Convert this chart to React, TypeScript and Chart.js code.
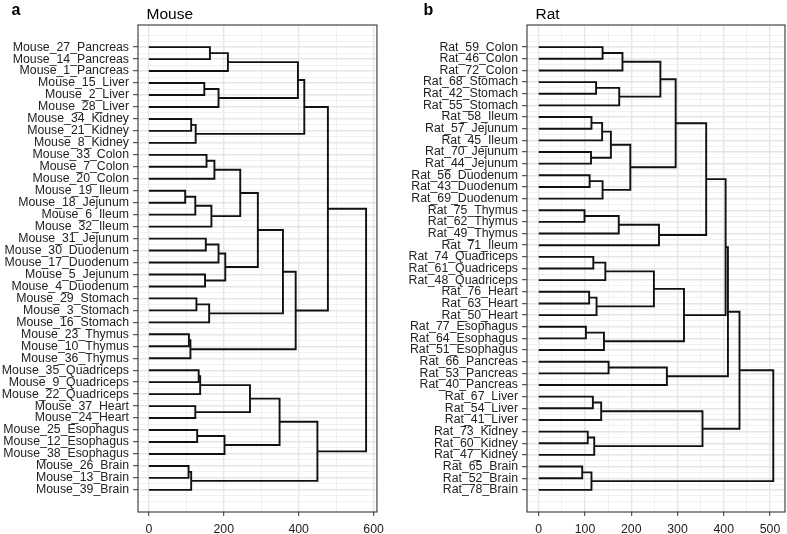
import React, { useEffect, useRef } from 'react';
import { Chart, registerables } from 'chart.js';

Chart.register(...registerables);

// ---------- Data ----------
const mouseLeaves = [
  'Mouse_27_Pancreas', 'Mouse_14_Pancreas', 'Mouse_1_Pancreas',
  'Mouse_15_Liver', 'Mouse_2_Liver', 'Mouse_28_Liver',
  'Mouse_34_Kidney', 'Mouse_21_Kidney', 'Mouse_8_Kidney',
  'Mouse_33_Colon', 'Mouse_7_Colon', 'Mouse_20_Colon',
  'Mouse_19_Ileum', 'Mouse_18_Jejunum', 'Mouse_6_Ileum', 'Mouse_32_Ileum',
  'Mouse_31_Jejunum', 'Mouse_30_Duodenum', 'Mouse_17_Duodenum', 'Mouse_5_Jejunum', 'Mouse_4_Duodenum',
  'Mouse_29_Stomach', 'Mouse_3_Stomach', 'Mouse_16_Stomach',
  'Mouse_23_Thymus', 'Mouse_10_Thymus', 'Mouse_36_Thymus',
  'Mouse_35_Quadriceps', 'Mouse_9_Quadriceps', 'Mouse_22_Quadriceps',
  'Mouse_37_Heart', 'Mouse_24_Heart',
  'Mouse_25_Esophagus', 'Mouse_12_Esophagus', 'Mouse_38_Esophagus',
  'Mouse_26_Brain', 'Mouse_13_Brain', 'Mouse_39_Brain',
];

// hclust-style merges: negative = leaf (1-based, display order), positive = earlier merge id; third = height
const mouseMerges: [number, number, number][] = [
  [-1, -2, 163], [1, -3, 211], [-4, -5, 148], [3, -6, 186], [2, 4, 398],
  [-7, -8, 113], [6, -9, 125], [5, 7, 415],
  [-10, -11, 154], [9, -12, 175],
  [-13, -14, 97], [11, -15, 124], [12, -16, 167], [10, 13, 244],
  [-17, -18, 152], [15, -19, 186], [-20, -21, 150], [16, 17, 204], [14, 18, 291],
  [-22, -23, 127], [20, -24, 161], [19, 21, 358],
  [-25, -26, 107], [23, -27, 111], [22, 24, 392],
  [8, 25, 478],
  [-28, -29, 133], [27, -30, 137], [-31, -32, 124], [28, 29, 270],
  [-33, -34, 129], [31, -35, 202], [30, 32, 349],
  [-36, -37, 106], [34, -38, 113], [33, 35, 450],
  [26, 36, 580],
];

const mouseXTicks = [0, 100, 200, 300, 400, 500, 600];
const mouseXLabelStep = 200;

const ratLeaves = [
  'Rat_59_Colon', 'Rat_46_Colon', 'Rat_72_Colon',
  'Rat_68_Stomach', 'Rat_42_Stomach', 'Rat_55_Stomach',
  'Rat_58_Ileum', 'Rat_57_Jejunum', 'Rat_45_Ileum', 'Rat_70_Jejunum', 'Rat_44_Jejunum',
  'Rat_56_Duodenum', 'Rat_43_Duodenum', 'Rat_69_Duodenum',
  'Rat_75_Thymus', 'Rat_62_Thymus', 'Rat_49_Thymus', 'Rat_71_Ileum',
  'Rat_74_Quadriceps', 'Rat_61_Quadriceps', 'Rat_48_Quadriceps',
  'Rat_76_Heart', 'Rat_63_Heart', 'Rat_50_Heart',
  'Rat_77_Esophagus', 'Rat_64_Esophagus', 'Rat_51_Esophagus',
  'Rat_66_Pancreas', 'Rat_53_Pancreas', 'Rat_40_Pancreas',
  'Rat_67_Liver', 'Rat_54_Liver', 'Rat_41_Liver',
  'Rat_73_Kidney', 'Rat_60_Kidney', 'Rat_47_Kidney',
  'Rat_65_Brain', 'Rat_52_Brain', 'Rat_78_Brain',
];

const ratMerges: [number, number, number][] = [
  [-1, -2, 138], [1, -3, 181], [-4, -5, 124], [3, -6, 174], [2, 4, 263],
  [-7, -8, 114], [6, -9, 137], [-10, -11, 113], [7, 8, 156],
  [-12, -13, 110], [10, -14, 138], [9, 11, 198], [5, 12, 296],
  [-15, -16, 99], [14, -17, 173], [15, -18, 260], [13, 16, 362],
  [-19, -20, 118], [18, -21, 144], [-22, -23, 109], [20, -24, 125], [19, 21, 249],
  [-25, -26, 102], [23, -27, 141], [22, 24, 314],
  [17, 25, 404],
  [-28, -29, 151], [27, -30, 277], [26, 28, 409],
  [-31, -32, 117], [30, -33, 135], [-34, -35, 106], [32, -36, 120], [31, 33, 354],
  [29, 34, 434],
  [-37, -38, 94], [36, -39, 114], [35, 37, 507],
];

const ratXTicks = [0, 50, 100, 150, 200, 250, 300, 350, 400, 450, 500];
const ratXLabelStep = 100;

// ---------- Helpers ----------
const FONT = "'Liberation Sans', Arial, Helvetica, sans-serif";

function buildSegments(merges: [number, number, number][]) {
  const nodes: { h: number; y: number }[] = [];
  const get = (id: number) => (id < 0 ? { h: 0, y: -id } : nodes[id - 1]);
  return merges.map(([a, b, h]) => {
    const A = get(a);
    const B = get(b);
    nodes.push({ h, y: (A.y + B.y) / 2 });
    return [
      { x: A.h, y: A.y },
      { x: h, y: A.y },
      { x: h, y: B.y },
      { x: B.h, y: B.y },
    ];
  });
}

const panelDecor = {
  id: 'panelDecor',
  afterDraw(chart: any, _args: any, opts: any) {
    const { ctx, chartArea: a } = chart;
    ctx.save();
    ctx.strokeStyle = '#333333';
    ctx.lineWidth = 1.1;
    ctx.strokeRect(a.left, a.top, a.right - a.left, a.bottom - a.top);
    ctx.fillStyle = '#000000';
    ctx.textBaseline = 'alphabetic';
    ctx.textAlign = 'left';
    ctx.font = `15.5px ${FONT}`;
    ctx.fillText(opts.title, a.left + 8.5, 19);
    ctx.font = `bold 16px ${FONT}`;
    ctx.fillText(opts.letter, opts.letterX, 14.5);
    ctx.restore();
  },
};

function makeConfig(
  leaves: string[],
  merges: [number, number, number][],
  xTicks: number[],
  labelStep: number,
  title: string,
  letter: string,
  letterX: number,
  yAxisWidth: number,
  padRight: number
): any {
  const n = leaves.length;
  const segs = buildSegments(merges);
  const maxH = Math.max(...merges.map((m) => m[2]));
  const yTicks: number[] = [];
  for (let v = 0; v <= n + 1; v += 0.5) yTicks.push(v);
  const isMajorY = (v: number) => Number.isInteger(v) && v >= 1 && v <= n;
  const isMajorX = (v: number) => v % labelStep === 0;

  return {
    type: 'scatter',
    data: {
      datasets: segs.map((s) => ({
        data: s,
        showLine: true,
        borderColor: '#111111',
        borderWidth: 1.9,
        pointRadius: 0,
        pointHoverRadius: 0,
        fill: false,
        tension: 0,
        borderJoinStyle: 'miter',
      })),
    },
    options: {
      animation: false,
      responsive: false,
      events: [],
      layout: { padding: { top: 25, right: padRight, left: 0, bottom: 0 } },
      plugins: {
        legend: { display: false },
        tooltip: { enabled: false },
        title: { display: false },
        panelDecor: { title, letter, letterX },
      },
      scales: {
        x: {
          type: 'linear',
          position: 'bottom',
          min: -0.05 * maxH,
          max: 1.05 * maxH,
          afterBuildTicks: (s: any) => {
            s.ticks = xTicks.map((v) => ({ value: v }));
          },
          afterFit: (s: any) => {
            s.height = 22;
          },
          border: { display: false },
          grid: {
            drawTicks: true,
            tickLength: 4,
            tickWidth: 1,
            color: (c: any) => (isMajorX(c.tick.value) ? '#e6e6e6' : '#ededed'),
            lineWidth: (c: any) => (isMajorX(c.tick.value) ? 1.4 : 0.8),
            tickColor: (c: any) => (isMajorX(c.tick.value) ? '#333333' : 'rgba(0,0,0,0)'),
          },
          ticks: {
            autoSkip: false,
            maxRotation: 0,
            minRotation: 0,
            padding: 6,
            color: '#222222',
            font: { family: FONT, size: 12.3 },
            callback: (v: any) => (isMajorX(Number(v)) ? String(v) : ''),
          },
        },
        y: {
          type: 'linear',
          position: 'left',
          reverse: true,
          min: 1 - 0.05 * (n - 1),
          max: n + 0.05 * (n - 1),
          afterBuildTicks: (s: any) => {
            s.ticks = yTicks.map((v) => ({ value: v }));
          },
          afterFit: (s: any) => {
            s.width = yAxisWidth;
          },
          border: { display: false },
          grid: {
            drawTicks: true,
            tickLength: 5,
            tickWidth: 1,
            color: (c: any) => (isMajorY(c.tick.value) ? '#e6e6e6' : '#ededed'),
            lineWidth: (c: any) => (isMajorY(c.tick.value) ? 1.4 : 0.8),
            tickColor: (c: any) => (isMajorY(c.tick.value) ? '#333333' : 'rgba(0,0,0,0)'),
          },
          ticks: {
            autoSkip: false,
            padding: 4,
            color: '#222222',
            font: { family: FONT, size: 12.3 },
            callback: (v: any) => {
              const k = Number(v);
              return isMajorY(k) ? leaves[k - 1] : '';
            },
          },
        },
      },
    },
    plugins: [panelDecor],
  };
}

function Panel(props: { left: number; width: number; build: () => any }) {
  const ref = useRef<HTMLCanvasElement | null>(null);
  useEffect(() => {
    if (!ref.current) return;
    const chart = new Chart(ref.current, props.build());
    return () => chart.destroy();
  }, []);
  return (
    <canvas
      ref={ref}
      width={props.width}
      height={534}
      style={{ position: 'absolute', left: props.left, top: 0, width: props.width, height: 534, display: 'block' }}
    />
  );
}

export default function App() {
  return (
    <div style={{ position: 'absolute', left: 0, top: 0, width: 787, height: 534, background: '#ffffff', overflow: 'hidden' }}>
      <Panel
        left={0}
        width={390}
        build={() =>
          makeConfig(mouseLeaves, mouseMerges, mouseXTicks, mouseXLabelStep, 'Mouse', 'a', 11.5, 138, 11)
        }
      />
      <Panel
        left={390}
        width={397}
        build={() =>
          makeConfig(ratLeaves, ratMerges, ratXTicks, ratXLabelStep, 'Rat', 'b', 33.5, 137, 2)
        }
      />
    </div>
  );
}
